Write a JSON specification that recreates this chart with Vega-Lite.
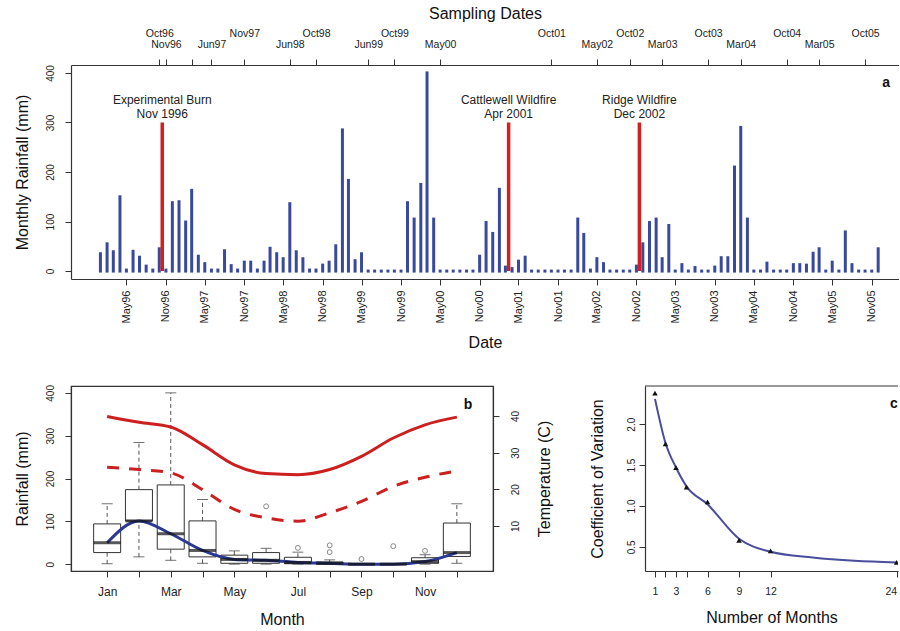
{
  "$schema": "https://vega.github.io/schema/vega-lite/v6.json",
  "padding": {"left": 13, "top": 5, "right": 0, "bottom": 0},
  "background": "white",
  "config": {
    "font": "Liberation Sans",
    "view": {"stroke": "#333", "strokeWidth": 1.2},
    "axis": {"grid": false, "domainColor": "#333", "domainWidth": 1.2, "tickColor": "#333", "tickWidth": 1, "tickSize": 6, "labelColor": "#222", "titleColor": "#111", "titleFontWeight": "normal", "labelFontSize": 10, "titleFontSize": 16, "labelOverlap": false, "labelBound": false, "labelFlush": false}
  },
  "spacing": 32,
  "vconcat": [
    {
      "width": 828,
      "height": 214,
      "view": {"stroke": null},
      "resolve": {"axis": {"x": "independent"}},
      "layer": [
        {
          "data": {"values": [
            {"date":"1996-01-01","rain":35},{"date":"1996-02-01","rain":55},{"date":"1996-03-01","rain":39},{"date":"1996-04-01","rain":150},{"date":"1996-05-01","rain":2},{"date":"1996-06-01","rain":40},{"date":"1996-07-01","rain":28},{"date":"1996-08-01","rain":10},{"date":"1996-09-01","rain":2},{"date":"1996-10-01","rain":45},{"date":"1996-11-01","rain":2},{"date":"1996-12-01","rain":138},
            {"date":"1997-01-01","rain":140},{"date":"1997-02-01","rain":99},{"date":"1997-03-01","rain":163},{"date":"1997-04-01","rain":30},{"date":"1997-05-01","rain":15},{"date":"1997-06-01","rain":2},{"date":"1997-07-01","rain":2},{"date":"1997-08-01","rain":41},{"date":"1997-09-01","rain":11},{"date":"1997-10-01","rain":2},{"date":"1997-11-01","rain":18},{"date":"1997-12-01","rain":18},
            {"date":"1998-01-01","rain":2},{"date":"1998-02-01","rain":18},{"date":"1998-03-01","rain":46},{"date":"1998-04-01","rain":35},{"date":"1998-05-01","rain":25},{"date":"1998-06-01","rain":136},{"date":"1998-07-01","rain":39},{"date":"1998-08-01","rain":25},{"date":"1998-09-01","rain":2},{"date":"1998-10-01","rain":2},{"date":"1998-11-01","rain":12},{"date":"1998-12-01","rain":18},
            {"date":"1999-01-01","rain":51},{"date":"1999-02-01","rain":285},{"date":"1999-03-01","rain":183},{"date":"1999-04-01","rain":21},{"date":"1999-05-01","rain":35},{"date":"1999-06-01","rain":0},{"date":"1999-07-01","rain":0},{"date":"1999-08-01","rain":0},{"date":"1999-09-01","rain":0},{"date":"1999-10-01","rain":0},{"date":"1999-11-01","rain":0},{"date":"1999-12-01","rain":138},
            {"date":"2000-01-01","rain":105},{"date":"2000-02-01","rain":175},{"date":"2000-03-01","rain":400},{"date":"2000-04-01","rain":105},{"date":"2000-05-01","rain":0},{"date":"2000-06-01","rain":0},{"date":"2000-07-01","rain":0},{"date":"2000-08-01","rain":0},{"date":"2000-09-01","rain":0},{"date":"2000-10-01","rain":0},{"date":"2000-11-01","rain":30},{"date":"2000-12-01","rain":98},
            {"date":"2001-01-01","rain":76},{"date":"2001-02-01","rain":165},{"date":"2001-03-01","rain":8},{"date":"2001-04-01","rain":5},{"date":"2001-05-01","rain":20},{"date":"2001-06-01","rain":28},{"date":"2001-07-01","rain":0},{"date":"2001-08-01","rain":0},{"date":"2001-09-01","rain":0},{"date":"2001-10-01","rain":0},{"date":"2001-11-01","rain":0},{"date":"2001-12-01","rain":0},
            {"date":"2002-01-01","rain":0},{"date":"2002-02-01","rain":105},{"date":"2002-03-01","rain":74},{"date":"2002-04-01","rain":2},{"date":"2002-05-01","rain":25},{"date":"2002-06-01","rain":15},{"date":"2002-07-01","rain":0},{"date":"2002-08-01","rain":0},{"date":"2002-09-01","rain":0},{"date":"2002-10-01","rain":0},{"date":"2002-11-01","rain":10},{"date":"2002-12-01","rain":55},
            {"date":"2003-01-01","rain":98},{"date":"2003-02-01","rain":105},{"date":"2003-03-01","rain":25},{"date":"2003-04-01","rain":92},{"date":"2003-05-01","rain":0},{"date":"2003-06-01","rain":13},{"date":"2003-07-01","rain":0},{"date":"2003-08-01","rain":7},{"date":"2003-09-01","rain":0},{"date":"2003-10-01","rain":0},{"date":"2003-11-01","rain":8},{"date":"2003-12-01","rain":27},
            {"date":"2004-01-01","rain":27},{"date":"2004-02-01","rain":210},{"date":"2004-03-01","rain":290},{"date":"2004-04-01","rain":105},{"date":"2004-05-01","rain":0},{"date":"2004-06-01","rain":0},{"date":"2004-07-01","rain":16},{"date":"2004-08-01","rain":0},{"date":"2004-09-01","rain":0},{"date":"2004-10-01","rain":0},{"date":"2004-11-01","rain":13},{"date":"2004-12-01","rain":13},
            {"date":"2005-01-01","rain":12},{"date":"2005-02-01","rain":36},{"date":"2005-03-01","rain":45},{"date":"2005-04-01","rain":0},{"date":"2005-05-01","rain":18},{"date":"2005-06-01","rain":0},{"date":"2005-07-01","rain":79},{"date":"2005-08-01","rain":13},{"date":"2005-09-01","rain":0},{"date":"2005-10-01","rain":0},{"date":"2005-11-01","rain":0},{"date":"2005-12-01","rain":45}
          ]},
          "mark": {"type": "rule", "color": "#394a9e", "strokeWidth": 3, "strokeCap": "square"},
          "encoding": {
            "x": {"field": "date", "type": "temporal",
              "scale": {"type": "utc", "domain": [{"year":1995,"month":8,"date":17,"utc":true},{"year":2006,"month":3,"date":8,"utc":true}]},
              "axis": {"orient": "bottom", "title": "Date", "titlePadding": 11, "labelOverlap": false, "tickCount": 60,
                "values": [{"year":1996,"month":5,"date":1,"utc":true},{"year":1996,"month":11,"date":1,"utc":true},{"year":1997,"month":5,"date":1,"utc":true},{"year":1997,"month":11,"date":1,"utc":true},{"year":1998,"month":5,"date":1,"utc":true},{"year":1998,"month":11,"date":1,"utc":true},{"year":1999,"month":5,"date":1,"utc":true},{"year":1999,"month":11,"date":1,"utc":true},{"year":2000,"month":5,"date":1,"utc":true},{"year":2000,"month":11,"date":1,"utc":true},{"year":2001,"month":5,"date":1,"utc":true},{"year":2001,"month":11,"date":1,"utc":true},{"year":2002,"month":5,"date":1,"utc":true},{"year":2002,"month":11,"date":1,"utc":true},{"year":2003,"month":5,"date":1,"utc":true},{"year":2003,"month":11,"date":1,"utc":true},{"year":2004,"month":5,"date":1,"utc":true},{"year":2004,"month":11,"date":1,"utc":true},{"year":2005,"month":5,"date":1,"utc":true},{"year":2005,"month":11,"date":1,"utc":true}],
                "labelExpr": "utcFormat(datum.value, '%b%y')", "labelAngle": 270, "labelAlign": "right", "labelBaseline": "middle", "labelFontSize": 11, "labelPadding": 5}},
            "y": {"field": "rain", "type": "quantitative", "scale": {"domain": [-16, 416], "nice": false, "zero": false},
              "axis": {"title": "Monthly Rainfall (mm)", "values": [0,100,200,300,400], "labelOverlap": false, "labelAngle": 270, "labelAlign": "center", "labelBaseline": "bottom", "labelPadding": 10, "titlePadding": 15}},
            "y2": {"datum": 0}
          }
        },
        {
          "data": {"values": [
            {"date": "1996-10-15", "top": 300},
            {"date": "2001-03-16", "top": 300},
            {"date": "2002-11-15", "top": 300}
          ]},
          "mark": {"type": "rule", "color": "#d0211f", "strokeWidth": 3.5},
          "encoding": {
            "x": {"field": "date", "type": "temporal",
              "axis": {"orient": "top", "title": "Sampling Dates", "titlePadding": 7, "labelOverlap": false, "tickCount": 60,
                "values": [{"year":1996,"month":10,"date":1,"utc":true},{"year":1996,"month":11,"date":1,"utc":true},{"year":1997,"month":3,"date":1,"utc":true},{"year":1997,"month":6,"date":1,"utc":true},{"year":1997,"month":11,"date":1,"utc":true},{"year":1998,"month":6,"date":1,"utc":true},{"year":1998,"month":10,"date":1,"utc":true},{"year":1999,"month":6,"date":1,"utc":true},{"year":1999,"month":10,"date":1,"utc":true},{"year":2000,"month":5,"date":1,"utc":true},{"year":2001,"month":10,"date":1,"utc":true},{"year":2002,"month":5,"date":1,"utc":true},{"year":2002,"month":10,"date":1,"utc":true},{"year":2003,"month":3,"date":1,"utc":true},{"year":2003,"month":10,"date":1,"utc":true},{"year":2004,"month":3,"date":1,"utc":true},{"year":2004,"month":10,"date":1,"utc":true},{"year":2005,"month":3,"date":1,"utc":true},{"year":2005,"month":10,"date":1,"utc":true}],
                "labelExpr": "utcFormat(datum.value, '%b%y') == 'Mar97' ? '' : utcFormat(datum.value, '%b%y')",
                "labelAngle": 0, "labelAlign": "center", "labelBaseline": "bottom", "labelFontSize": 10.5,
                "labelPadding": {"condition": {"test": "indexof(['Oct96','Nov97','Oct98','Oct99','Oct01','Oct02','Oct03','Oct04','Oct05'], utcFormat(datum.value, '%b%y')) >= 0", "value": 21}, "value": 10}}},
            "y": {"field": "top", "type": "quantitative"},
            "y2": {"datum": 0}
          }
        },
        {
          "data": {"values": [
            {"date": "1996-10-15", "top": 300, "label": "Experimental Burn\nNov 1996"},
            {"date": "2001-03-16", "top": 300, "label": "Cattlewell Wildfire\nApr 2001"},
            {"date": "2002-11-15", "top": 300, "label": "Ridge Wildfire\nDec 2002"}
          ]},
          "mark": {"type": "text", "lineBreak": "\n", "fontSize": 12, "lineHeight": 14, "baseline": "bottom", "dy": -15, "color": "#222"},
          "encoding": {
            "x": {"field": "date", "type": "temporal", "axis": null},
            "y": {"field": "top", "type": "quantitative"},
            "text": {"field": "label"}
          }
        },
        {
          "data": {"values": [{}]},
          "mark": {"type": "text", "fontSize": 14, "fontWeight": "bold", "color": "#111"},
          "encoding": {
            "x": {"datum": {"year":2006,"month":1,"date":7,"utc":true}, "type": "temporal", "axis": null},
            "y": {"datum": 380},
            "text": {"value": "a"}
          }
        }
      ]
    },
    {
      "spacing": 35,
      "hconcat": [
        {
          "width": 422,
          "height": 185,
          "resolve": {"scale": {"y": "independent"}},
          "layer": [
            {
              "layer": [
                {
                  "data": {"name": "boxes"},
                  "mark": {"type": "rule", "color": "#555", "strokeDash": [4, 3], "strokeWidth": 1},
                  "encoding": {
                    "x": {"field": "month", "type": "quantitative",
                      "scale": {"domain": [0.02, 12.98], "nice": false, "zero": false},
                      "axis": {"title": "Month", "values": [1,2,3,4,5,6,7,8,9,10,11,12], "tickCount": 60, "labelOverlap": false, "labelExpr": "['Jan','','Mar','','May','','Jul','','Sep','','Nov',''][datum.value - 1]", "labelFontSize": 12, "labelPadding": 9, "titlePadding": 14}},
                    "y": {"field": "q3", "type": "quantitative", "scale": {"domain": [-16, 416], "nice": false, "zero": false},
                      "axis": {"title": "Rainfall (mm)", "values": [0,100,200,300,400], "labelOverlap": false, "labelAngle": 270, "labelAlign": "center", "labelBaseline": "bottom", "labelPadding": 10, "titlePadding": 15}},
                    "y2": {"field": "hi"}
                  }
                },
                {
                  "data": {"name": "boxes"},
                  "mark": {"type": "rule", "color": "#555", "strokeDash": [4, 3], "strokeWidth": 1},
                  "encoding": {
                    "x": {"field": "month", "type": "quantitative"},
                    "y": {"field": "lo", "type": "quantitative"},
                    "y2": {"field": "q1"}
                  }
                },
                {
                  "data": {"name": "boxes"},
                  "mark": {"type": "tick", "orient": "horizontal", "size": 11, "thickness": 1, "color": "#333"},
                  "encoding": {
                    "x": {"field": "month", "type": "quantitative"},
                    "y": {"field": "hi", "type": "quantitative"}
                  }
                },
                {
                  "data": {"name": "boxes"},
                  "mark": {"type": "tick", "orient": "horizontal", "size": 11, "thickness": 1, "color": "#333"},
                  "encoding": {
                    "x": {"field": "month", "type": "quantitative"},
                    "y": {"field": "lo", "type": "quantitative"}
                  }
                },
                {
                  "data": {"name": "boxes"},
                  "mark": {"type": "bar", "orient": "vertical", "size": 27, "fill": "white", "stroke": "#333", "strokeWidth": 1},
                  "encoding": {
                    "x": {"field": "month", "type": "quantitative"},
                    "y": {"field": "q1", "type": "quantitative"},
                    "y2": {"field": "q3"}
                  }
                },
                {
                  "data": {"values": [
                    {"month": 6, "rain": 135}, {"month": 7, "rain": 38}, {"month": 8, "rain": 28}, {"month": 8, "rain": 44},
                    {"month": 9, "rain": 12}, {"month": 10, "rain": 42}, {"month": 11, "rain": 31}
                  ]},
                  "mark": {"type": "point", "shape": "circle", "filled": false, "size": 24, "color": "#555", "strokeWidth": 1},
                  "encoding": {
                    "x": {"field": "month", "type": "quantitative"},
                    "y": {"field": "rain", "type": "quantitative"}
                  }
                },
                {
                  "data": {"name": "boxes"},
                  "mark": {"type": "line", "interpolate": "monotone", "color": "#2b3990", "strokeWidth": 3},
                  "encoding": {
                    "x": {"field": "month", "type": "quantitative"},
                    "y": {"field": "med", "type": "quantitative"}
                  }
                },
                {
                  "data": {"name": "boxes"},
                  "mark": {"type": "tick", "orient": "horizontal", "size": 27, "thickness": 3, "color": "#111"},
                  "encoding": {
                    "x": {"field": "month", "type": "quantitative"},
                    "y": {"field": "med", "type": "quantitative"}
                  }
                },
                {
                  "data": {"values": [{}]},
                  "mark": {"type": "text", "fontSize": 14, "fontWeight": "bold", "color": "#111"},
                  "encoding": {
                    "x": {"datum": 12.35},
                    "y": {"datum": 372},
                    "text": {"value": "b"}
                  }
                }
              ]
            },
            {
              "data": {"values": [
                {"month": 1, "tmax": 39.9, "tmin": 26.0}, {"month": 2, "tmax": 38.3, "tmin": 25.4}, {"month": 3, "tmax": 37.0, "tmin": 24.5},
                {"month": 4, "tmax": 32.2, "tmin": 19.9}, {"month": 5, "tmax": 26.7, "tmin": 14.5}, {"month": 6, "tmax": 24.3, "tmin": 12.2},
                {"month": 7, "tmax": 24.0, "tmin": 11.3}, {"month": 8, "tmax": 25.4, "tmin": 13.6}, {"month": 9, "tmax": 29.0, "tmin": 16.7},
                {"month": 10, "tmax": 34.0, "tmin": 20.8}, {"month": 11, "tmax": 37.6, "tmin": 23.3}, {"month": 12, "tmax": 39.7, "tmin": 25.0}
              ]},
              "layer": [
                {
                  "mark": {"type": "line", "interpolate": "monotone", "color": "#cc1f1f", "strokeWidth": 3},
                  "encoding": {
                    "x": {"field": "month", "type": "quantitative"},
                    "y": {"field": "tmax", "type": "quantitative", "scale": {"domain": [-2.3, 48.2], "nice": false, "zero": false},
                      "axis": {"orient": "right", "title": "Temperature (C)", "values": [10, 20, 30, 40], "labelOverlap": false, "labelAngle": 270, "labelAlign": "center", "labelBaseline": "top", "labelPadding": 11, "titleAngle": 270, "titleBaseline": "top", "titlePadding": 16}}
                  }
                },
                {
                  "mark": {"type": "line", "interpolate": "monotone", "color": "#cc1f1f", "strokeWidth": 3, "strokeDash": [12, 10]},
                  "encoding": {
                    "x": {"field": "month", "type": "quantitative"},
                    "y": {"field": "tmin", "type": "quantitative",
                      "axis": {"orient": "right", "title": "Temperature (C)", "values": [10, 20, 30, 40], "labelOverlap": false, "labelAngle": 270, "labelAlign": "center", "labelBaseline": "top", "labelPadding": 11, "titleAngle": 270, "titleBaseline": "top", "titlePadding": 16}}
                  }
                }
              ]
            }
          ]
        },
        {
          "width": 253,
          "height": 185,
          "view": {"stroke": null},
          "layer": [
            {
              "data": {"values": [
                {"months": 1, "cv": 2.31}, {"months": 2, "cv": 1.77}, {"months": 3, "cv": 1.47}, {"months": 4, "cv": 1.24},
                {"months": 6, "cv": 1.02}, {"months": 9, "cv": 0.6}, {"months": 12, "cv": 0.44}, {"months": 16, "cv": 0.37},
                {"months": 20, "cv": 0.33}, {"months": 24, "cv": 0.31}
              ]},
              "mark": {"type": "line", "interpolate": "monotone", "color": "#4a4c9c", "strokeWidth": 2, "clip": true},
              "encoding": {
                "x": {"field": "months", "type": "quantitative", "scale": {"domain": [0.05, 24.13], "nice": false, "zero": false},
                  "axis": {"title": "Number of Months", "values": [1,2,3,4,6,9,12,24], "tickCount": 60, "labelOverlap": false, "labelFlush": 5,
                    "labelExpr": "datum.value == 2 || datum.value == 4 ? '' : '' + datum.value",
                    "labelFontSize": 10.5, "labelPadding": 9, "titlePadding": 13}},
                "y": {"field": "cv", "type": "quantitative", "scale": {"domain": [0.205, 2.467], "nice": false, "zero": false},
                  "axis": {"title": "Coefficient of Variation", "values": [0.5, 1, 1.5, 2], "labelOverlap": false, "format": ".1f", "labelAngle": 270, "labelAlign": "center", "labelBaseline": "bottom", "labelPadding": 3, "titlePadding": 21}}
              }
            },
            {
              "data": {"values": [
                {"months": 1, "cv": 2.38}, {"months": 2, "cv": 1.76}, {"months": 3, "cv": 1.47}, {"months": 4, "cv": 1.23},
                {"months": 6, "cv": 1.05}, {"months": 9, "cv": 0.58}, {"months": 12, "cv": 0.45}, {"months": 24, "cv": 0.31}
              ]},
              "mark": {"type": "point", "shape": "triangle-up", "filled": true, "color": "#111", "size": 30, "opacity": 1, "clip": true},
              "encoding": {
                "x": {"field": "months", "type": "quantitative"},
                "y": {"field": "cv", "type": "quantitative"}
              }
            },
            {
              "data": {"values": [{}]},
              "mark": {"type": "rule", "color": "#333", "strokeWidth": 1.2},
              "encoding": {"y": {"datum": 2.467}}
            },
            {
              "data": {"values": [{}]},
              "mark": {"type": "text", "fontSize": 14, "fontWeight": "bold", "color": "#111", "align": "right"},
              "encoding": {"x": {"datum": 24.1}, "y": {"datum": 2.25}, "text": {"value": "c"}}
            }
          ]
        }
      ]
    }
  ],
  "datasets": {
    "boxes": [
      {"month": 1, "lo": 1, "q1": 27, "med": 50, "q3": 94, "hi": 141},
      {"month": 2, "lo": 17, "q1": 101, "med": 101, "q3": 174, "hi": 284},
      {"month": 3, "lo": 9, "q1": 35, "med": 71, "q3": 185, "hi": 400},
      {"month": 4, "lo": 2, "q1": 17, "med": 32, "q3": 101, "hi": 151},
      {"month": 5, "lo": 0, "q1": 2, "med": 11, "q3": 21, "hi": 31},
      {"month": 6, "lo": 0, "q1": 2, "med": 9, "q3": 27, "hi": 37},
      {"month": 7, "lo": 0, "q1": 1, "med": 4, "q3": 16, "hi": 28},
      {"month": 8, "lo": 0, "q1": 0, "med": 2, "q3": 5, "hi": 10},
      {"month": 9, "lo": 0, "q1": 0, "med": 0, "q3": 0, "hi": 0},
      {"month": 10, "lo": 0, "q1": 0, "med": 0, "q3": 0, "hi": 0},
      {"month": 11, "lo": 0, "q1": 2, "med": 6, "q3": 15, "hi": 22},
      {"month": 12, "lo": 2, "q1": 18, "med": 27, "q3": 96, "hi": 141}
    ]
  }
}
